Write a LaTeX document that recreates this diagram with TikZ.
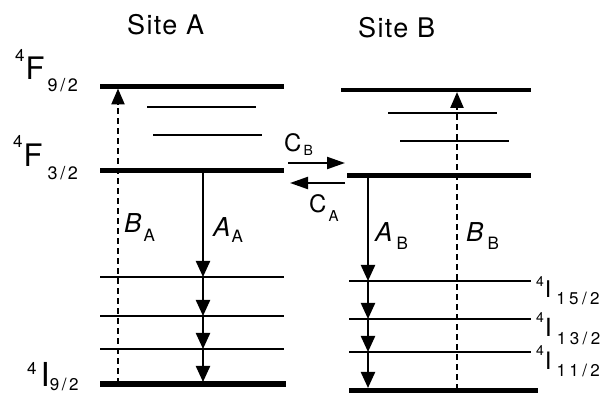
\documentclass[tikz,border=0pt]{standalone}
\usepackage{fontspec}
\setmainfont{TeX Gyre Heros}
\usetikzlibrary{arrows.meta}
\newcommand\fs[1]{\fontsize{#1}{#1}\selectfont}
\newcommand\ls[1]{\addfontfeatures{LetterSpace=#1}}
\begin{document}
\begin{tikzpicture}[x=1pt,y=-1pt,
  thicklvl/.style={line width=4.5pt},
  thinlvl/.style={line width=2.2pt},
  decay/.style={line width=2.2pt,-{Triangle[width=14pt,length=16pt]}},
  excite/.style={line width=2.4pt,dash pattern=on 6pt off 4pt,-{Triangle[width=13pt,length=16pt]}},
  transfer/.style={line width=2.2pt,-{Triangle[width=12pt,length=18pt]}},
  lbl/.style={inner sep=0pt,anchor=base west},
]
\useasboundingbox (0,0) rectangle (608,395);

% ---- Site A levels
\coordinate (A1l) at (100,86.5);  \coordinate (A1r) at (284,86.5);
\coordinate (A2l) at (147,107);   \coordinate (A2r) at (256,107);
\coordinate (A3l) at (153,135);   \coordinate (A3r) at (262,135);
\coordinate (A4l) at (100,170.5); \coordinate (A4r) at (284,170.5);
\coordinate (A5l) at (100,277);   \coordinate (A5r) at (284,277);
\coordinate (A6l) at (100,316);   \coordinate (A6r) at (284,316);
\coordinate (A7l) at (100,349);   \coordinate (A7r) at (284,349);
\coordinate (A8l) at (100,384);   \coordinate (A8r) at (286,384);
\draw[thicklvl] (A1l) -- (A1r);
\draw[thinlvl] (A2l) -- (A2r);
\draw[thinlvl] (A3l) -- (A3r);
\draw[thicklvl] (A4l) -- (A4r);
\draw[thinlvl] (A5l) -- (A5r);
\draw[thinlvl] (A6l) -- (A6r);
\draw[thinlvl] (A7l) -- (A7r);
\draw[line width=5pt] (A8l) -- (A8r);

% ---- Site B levels
\coordinate (B1l) at (341,90);    \coordinate (B1r) at (531,90);
\coordinate (B2l) at (388,113);   \coordinate (B2r) at (497,113);
\coordinate (B3l) at (400,141);   \coordinate (B3r) at (509,141);
\coordinate (B4l) at (347,175.5); \coordinate (B4r) at (531,175.5);
\coordinate (B5l) at (349,281);   \coordinate (B5r) at (531,281);
\coordinate (B6l) at (349,319);   \coordinate (B6r) at (531,319);
\coordinate (B7l) at (349,352);   \coordinate (B7r) at (531,352);
\coordinate (B8l) at (349,390);   \coordinate (B8r) at (538,390);
\draw[thicklvl] (B1l) -- (B1r);
\draw[thinlvl] (B2l) -- (B2r);
\draw[thinlvl] (B3l) -- (B3r);
\draw[thicklvl] (B4l) -- (B4r);
\draw[thinlvl] (B5l) -- (B5r);
\draw[thinlvl] (B6l) -- (B6r);
\draw[thinlvl] (B7l) -- (B7r);
\draw[line width=5pt] (B8l) -- (B8r);

% ---- Site A transitions
\coordinate (aa0) at (203,170.5);
\coordinate (aa1) at (203,277);
\coordinate (aa2) at (203,316);
\coordinate (aa3) at (203,349);
\coordinate (aa4) at (203,382);
\draw[decay] (aa0) -- (aa1);
\draw[decay] (aa1) -- (aa2);
\draw[decay] (aa2) -- (aa3);
\draw[decay] (aa3) -- (aa4);
\coordinate (ba0) at (118,384);
\coordinate (ba1) at (118,88.5);
\draw[excite] (ba0) -- (ba1);

% ---- Site B transitions
\coordinate (ab0) at (368,175.5);
\coordinate (ab1) at (368,281);
\coordinate (ab2) at (368,319);
\coordinate (ab3) at (368,352);
\coordinate (ab4) at (368,388);
\draw[decay] (ab0) -- (ab1);
\draw[decay] (ab1) -- (ab2);
\draw[decay] (ab2) -- (ab3);
\draw[decay] (ab3) -- (ab4);
\coordinate (bb0) at (457,390);
\coordinate (bb1) at (457,92);
\draw[excite] (bb0) -- (bb1);

% ---- Transfer between sites
\coordinate (cb0) at (288,163); \coordinate (cb1) at (345,163);
\coordinate (ca0) at (345,183); \coordinate (ca1) at (290,183);
\draw[transfer] (cb0) -- (cb1);
\draw[transfer] (ca0) -- (ca1);

% ---- Texts
\node[lbl] (siteA) at (127,35) {\fs{27}\ls{5}Site A};
\node[lbl] (siteB) at (358,38) {\fs{27}\ls{5}Site B};

\node[lbl] (tF9) at (15,80) {\raisebox{18pt}{\fs{17}4}\kern1pt\fs{31}F\kern3pt\raisebox{-12pt}{\fs{18}\ls{15}9/2}};
\node[lbl] (tF3) at (13,167) {\raisebox{19pt}{\fs{17}4}\kern1pt\fs{31}F\kern5pt\raisebox{-13pt}{\fs{18}\ls{15}3/2}};
\node[lbl] (tI9) at (27,387) {\raisebox{13pt}{\fs{17}4}\kern4pt\fs{33}I\kern0pt\raisebox{-4pt}{\fs{17}\ls{15}9/2}};

\node[lbl] (tI15) at (536,298) {\raisebox{11pt}{\fs{14}4}\kern1pt\fs{23}I\kern5pt\raisebox{-7pt}{\fs{17}\ls{20}15/2}};
\node[lbl] (tI13) at (536,337) {\raisebox{14pt}{\fs{14}4}\kern1pt\fs{25}I\kern5pt\raisebox{-8pt}{\fs{17}\ls{20}13/2}};
\node[lbl] (tI11) at (536,370) {\raisebox{14pt}{\fs{14}4}\kern1pt\fs{24}I\kern5pt\raisebox{-7pt}{\fs{17}\ls{20}11/2}};

\node[lbl] (lBA) at (124,233) {\fs{26}\itshape B\kern2pt\upshape\raisebox{-9pt}{\fs{17}A}};
\node[lbl] (lAA) at (213,237) {\fs{26}\itshape A\kern1pt\upshape\raisebox{-6pt}{\fs{17}A}};
\node[lbl] (lAB) at (375,242) {\fs{26}\itshape A\kern4pt\upshape\raisebox{-8pt}{\fs{17}B}};
\node[lbl] (lBB) at (466,242) {\fs{26}\itshape B\kern4pt\upshape\raisebox{-8pt}{\fs{17}B}};

\node[lbl] (lCB) at (284,152) {\fs{24}C\kern2pt\raisebox{-4pt}{\fs{14}B}};
\node[lbl] (lCA) at (309,213) {\fs{24}C\kern2pt\raisebox{-9pt}{\fs{15}A}};
\end{tikzpicture}
\end{document}
